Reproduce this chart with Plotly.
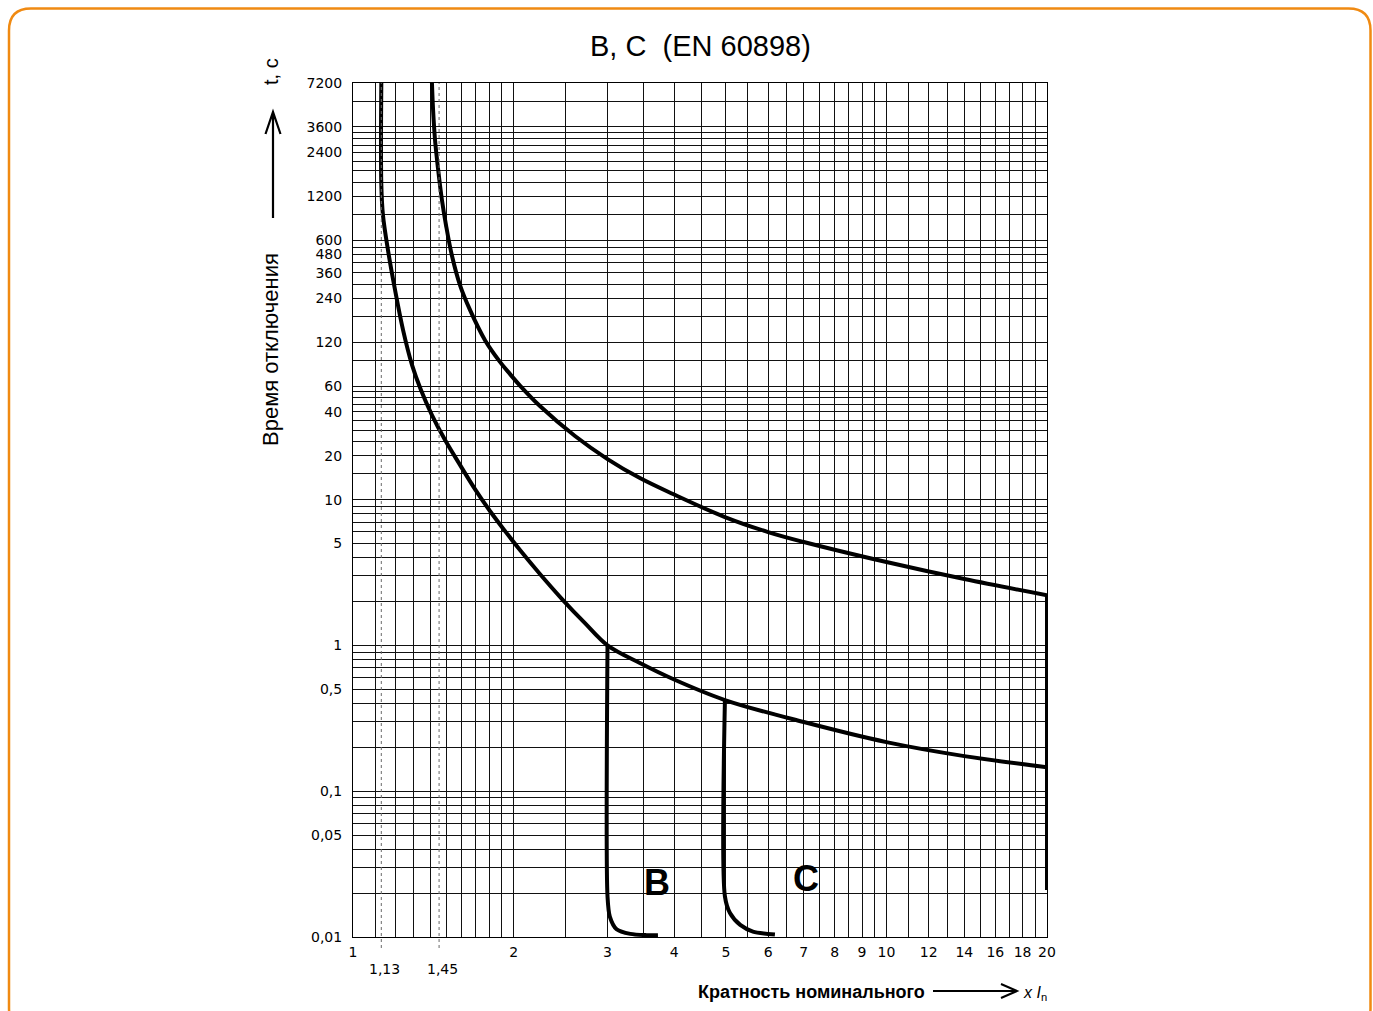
import math
import plotly.graph_objects as go

# ---------------- data ----------------
# lower boundary curve (1,13 In, no-trip)
low_x = [1.13, 1.13, 1.138, 1.163, 1.199, 1.241, 1.290, 1.341, 1.406, 1.488, 1.587, 1.693, 1.806, 1.928, 2.056,
         2.241, 2.465, 2.722, 3.0, 3.45, 3.98, 4.98, 7.0, 10.0, 14.0, 20.0]
low_t = [7200, 1450, 895, 514, 274, 146, 84, 56.4, 38.0, 25.6, 17.3, 11.8, 8.35, 6.08, 4.51,
         3.09, 2.08, 1.42, 1.0, 0.757, 0.588, 0.422, 0.298, 0.217, 0.174, 0.146]
# upper boundary curve (1,45 In, trip)
up_x = [1.406, 1.413, 1.425, 1.443, 1.468, 1.494, 1.533, 1.587, 1.657, 1.768, 1.886, 1.97, 2.056, 2.241, 2.607,
        3.0, 3.45, 3.98, 4.98, 6.0, 7.0, 10.0, 14.0, 20.0]
up_t = [7200, 4700, 2920, 1880, 1134, 764, 470, 296, 200, 124, 88, 72.5, 60.5, 43.8, 27.3,
        18.97, 14.05, 10.92, 7.59, 5.99, 5.12, 3.73, 2.85, 2.21]
# vertical drop at 20 In
drop_x = [20, 20]
drop_t = [2.21, 0.021]
# instantaneous tripping B (3 In) and C (5 In)
b_x = [3.0, 3.0, 3.03, 3.12, 3.31, 3.55, 3.73]
b_t = [1.0, 0.019, 0.0138, 0.0113, 0.0105, 0.0103, 0.0103]
c_x = [4.98, 4.98, 5.09, 5.32, 5.62, 6.18]
c_t = [0.422, 0.019, 0.0146, 0.0121, 0.0109, 0.0104]

# axis ticks
x_ticks = [1, 2, 3, 4, 5, 6, 7, 8, 9, 10, 12, 14, 16, 18, 20]
x_ticktext = [str(v) for v in x_ticks]
x_minor = [1.1, 1.2, 1.3, 1.4, 1.5, 1.6, 1.7, 1.8, 1.9, 2.5, 3.5, 4.5, 5.5, 6.5, 7.5, 8.5, 9.5,
           11, 13, 15, 17, 19]
y_ticks = [7200, 3600, 2400, 1200, 600, 480, 360, 240, 120, 60, 40, 20, 10, 5, 1, 0.5, 0.1, 0.05, 0.01]
y_ticktext = ["7200", "3600", "2400", "1200", "600", "480", "360", "240", "120", "60", "40", "20", "10", "5",
              "1", "0,5", "0,1", "0,05", "0,01"]
y_minor = [5400, 3300, 3000, 2700, 2100, 1800, 1500, 900, 540, 420, 300, 180, 90,
           55, 50, 45, 35, 30, 25, 15, 9, 8, 7, 6, 4, 3, 2,
           0.9, 0.8, 0.7, 0.6, 0.4, 0.3, 0.2, 0.09, 0.08, 0.07, 0.06, 0.04, 0.03, 0.02]

ref_x = [1.13, 1.45]
ref_labels = ["1,13", "1,45"]

curve_labels = ["B", "C"]
curve_label_x = [3.71, 7.07]
curve_label_t = [0.0238, 0.025]

# ---------------- layout geometry ----------------
W, H = 1373, 1011
L, R, T, B = 353, 1047, 83, 937


def px(x):
    return (x - L) / (R - L)


def py(y):
    return (B - y) / (B - T)


fig = go.Figure()

line_style = dict(color="black", width=4)
fig.add_trace(go.Scatter(x=low_x, y=low_t, mode="lines", line=dict(shape="spline", smoothing=1.0, **line_style),
                         hoverinfo="skip"))
fig.add_trace(go.Scatter(x=up_x, y=up_t, mode="lines", line=dict(shape="spline", smoothing=1.0, **line_style),
                         hoverinfo="skip"))
fig.add_trace(go.Scatter(x=drop_x, y=drop_t, mode="lines", line=line_style, hoverinfo="skip"))
fig.add_trace(go.Scatter(x=b_x, y=b_t, mode="lines", line=dict(shape="spline", smoothing=0.8, **line_style),
                         hoverinfo="skip"))
fig.add_trace(go.Scatter(x=c_x, y=c_t, mode="lines", line=dict(shape="spline", smoothing=0.8, **line_style),
                         hoverinfo="skip"))

grid_col = "#111111"
tick_font = dict(family="DejaVu Sans", size=14, color="black")

fig.update_xaxes(type="log", range=[0, math.log10(20)], tickmode="array", tickvals=x_ticks, ticktext=x_ticktext,
                 showgrid=True, gridcolor=grid_col, gridwidth=1, ticks="", tickfont=tick_font,
                 ticklabelstandoff=2,
                 minor=dict(tickmode="array", tickvals=x_minor, showgrid=True, gridcolor=grid_col, gridwidth=1,
                            ticks=""),
                 showline=True, linecolor="black", linewidth=1, mirror=True, zeroline=False)
fig.update_yaxes(type="log", range=[-2, math.log10(7200)], tickmode="array", tickvals=y_ticks, ticktext=y_ticktext,
                 showgrid=True, gridcolor=grid_col, gridwidth=1, ticks="", tickfont=tick_font,
                 ticklabelstandoff=7,
                 minor=dict(tickmode="array", tickvals=y_minor, showgrid=True, gridcolor=grid_col, gridwidth=1,
                            ticks=""),
                 showline=True, linecolor="black", linewidth=1, mirror=True, zeroline=False)

shapes = []
# dotted reference lines at 1,13 and 1,45
for xv in ref_x:
    shapes.append(dict(type="line", xref="x", yref="paper", x0=xv, x1=xv, y0=py(948), y1=1,
                       line=dict(color="#6a6a6a", width=1, dash="dot")))

# y-axis arrow
ax_x = 273
shapes.append(dict(type="path", xref="paper", yref="paper",
                   path=f"M {px(ax_x)},{py(218)} L {px(ax_x)},{py(112)} "
                        f"M {px(265.5)},{py(134)} L {px(ax_x)},{py(112)} L {px(280.5)},{py(134)}",
                   line=dict(color="black", width=2.2)))
# x-axis arrow
ay_y = 991
shapes.append(dict(type="path", xref="paper", yref="paper",
                   path=f"M {px(933)},{py(ay_y)} L {px(1017)},{py(ay_y)} "
                        f"M {px(1001)},{py(984)} L {px(1017)},{py(ay_y)} L {px(1001)},{py(998)}",
                   line=dict(color="black", width=2)))

# orange rounded frame
fl, ft, fr, fb, rad = 9, 8.5, 1370.5, 1030, 22
frame = (f"M {px(fl)},{py(ft + rad)} Q {px(fl)},{py(ft)} {px(fl + rad)},{py(ft)} "
         f"L {px(fr - rad)},{py(ft)} Q {px(fr)},{py(ft)} {px(fr)},{py(ft + rad)} "
         f"L {px(fr)},{py(fb - rad)} Q {px(fr)},{py(fb)} {px(fr - rad)},{py(fb)} "
         f"L {px(fl + rad)},{py(fb)} Q {px(fl)},{py(fb)} {px(fl)},{py(fb - rad)} Z")
shapes.append(dict(type="path", xref="paper", yref="paper", path=frame,
                   line=dict(color="#F08A12", width=2.5)))

annotations = []
# title
annotations.append(dict(text="B, C  (EN 60898)", xref="paper", yref="paper", x=px(700.5), y=py(46),
                        showarrow=False, xanchor="center", yanchor="middle",
                        font=dict(family="Liberation Sans", size=29, color="black")))
# y title
annotations.append(dict(text="Время отключения", xref="paper", yref="paper", x=px(270), y=py(350),
                        showarrow=False, textangle=-90, xanchor="center", yanchor="middle",
                        font=dict(family="Liberation Sans", size=22, color="black")))
annotations.append(dict(text="t, c", xref="paper", yref="paper", x=px(271), y=py(72),
                        showarrow=False, textangle=-90, xanchor="center", yanchor="middle",
                        font=dict(family="Liberation Sans", size=20, color="black")))
# x title
annotations.append(dict(text="<b>Кратность номинального</b>", xref="paper", yref="paper", x=px(927), y=py(992),
                        showarrow=False, xanchor="right", yanchor="middle",
                        font=dict(family="Liberation Sans", size=18, color="black")))
annotations.append(dict(text="<i>x I</i><sub>n</sub>", xref="paper", yref="paper", x=px(1021), y=py(993),
                        showarrow=False, xanchor="left", yanchor="middle",
                        font=dict(family="Liberation Sans", size=16, color="black")))
# reference labels 1,13 / 1,45
for xv, lab in zip(ref_x, ref_labels):
    annotations.append(dict(text=lab, xref="x", yref="paper", x=math.log10(xv), y=py(969),
                            showarrow=False, xanchor="left", xshift=-14, yanchor="middle", font=tick_font))
# B / C labels
for lab, xv, tv in zip(curve_labels, curve_label_x, curve_label_t):
    annotations.append(dict(text=f"<b>{lab}</b>", xref="x", yref="y", x=math.log10(xv), y=math.log10(tv),
                            showarrow=False, xanchor="center", yanchor="middle",
                            font=dict(family="Liberation Sans", size=36, color="black")))

fig.update_layout(width=W, height=H, margin=dict(l=L, r=W - R, t=T, b=H - B, pad=0),
                  paper_bgcolor="white", plot_bgcolor="white", showlegend=False,
                  shapes=shapes, annotations=annotations)

fig.write_html("out.html")
